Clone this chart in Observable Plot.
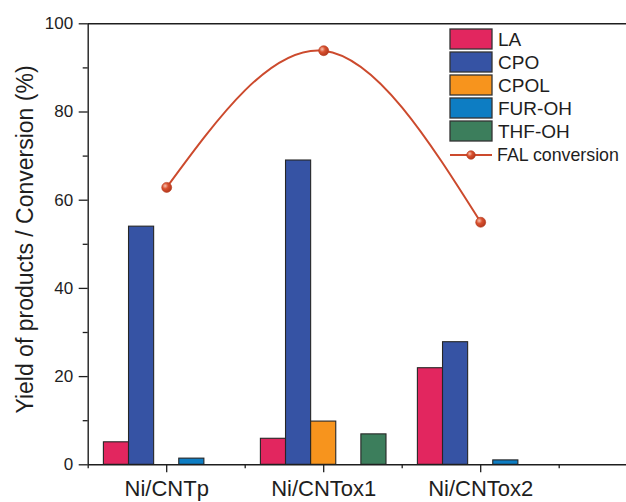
<!DOCTYPE html>
<html><head><meta charset="utf-8">
<script src="https://cdn.jsdelivr.net/npm/d3@7"></script>
<script src="https://cdn.jsdelivr.net/npm/@observablehq/plot@0.6"></script>
<style>
html,body{margin:0;padding:0;background:#fff;overflow:hidden;}
#chart svg{overflow:hidden;}
</style>
</head><body><div id="chart"></div>
<script>
const catalysts = ["Ni/CNTp", "Ni/CNTox1", "Ni/CNTox2"];
const products = ["LA", "CPO", "CPOL", "FUR-OH", "THF-OH"];
const colors = ["#e2265f", "#3653a4", "#f7941d", "#0d7dc3", "#3c7e5c"];
const LA = [5.1, 5.9, 21.9];
const CPO = [54.0, 69.0, 27.8];
const CPOL = [0, 9.8, 0];
const FUROH = [1.4, 0, 1.0];
const THFOH = [0, 6.9, 0];
const FAL = [62.9, 93.9, 55.0];
const lineName = "FAL conversion";
const yTicks = [0, 20, 40, 60, 80, 100];
const yMinor = [10, 30, 50, 70, 90];
const xMajor = [1, 2, 3, 4];
const xMinor = [0.5, 1.5, 2.5, 3.5];
const yTitle = "Yield of products / Conversion (%)";

const series = [LA, CPO, CPOL, FUROH, THFOH];
const groupWidth = 0.8, barW = groupWidth / products.length;
const bars = [];
catalysts.forEach((c, ci) => {
  series.forEach((vals, si) => {
    const v = vals[ci];
    if (v > 0) bars.push({cat: c, product: products[si], value: v,
      x1: ci + 1 - groupWidth / 2 + si * barW, x2: ci + 1 - groupWidth / 2 + (si + 1) * barW});
  });
});
const fal = catalysts.map((c, i) => ({x: i + 1, y: FAL[i]}));

const ink = "#1e1e1e";
const font = "'Liberation Sans', Arial, sans-serif";

function legend(index, scales, values, dims) {
  const g = d3.create("svg:g").attr("font-family", font).attr("font-size", 19)
    .attr("fill", ink).attr("text-anchor", "start");
  const defs = g.append("defs");
  const rg = defs.append("radialGradient").attr("id", "ball").attr("cx", "35%").attr("cy", "35%").attr("r", "65%");
  rg.append("stop").attr("offset", "0%").attr("stop-color", "#f6c2b0");
  rg.append("stop").attr("offset", "45%").attr("stop-color", "#d9512f");
  rg.append("stop").attr("offset", "100%").attr("stop-color", "#b63a1f");
  const x0 = 450, y0 = 29, step = 23, bw = 42, bh = 20;
  products.forEach((p, i) => {
    const y = y0 + i * step;
    g.append("rect").attr("x", x0).attr("y", y).attr("width", bw).attr("height", bh)
      .attr("fill", colors[i]).attr("stroke", "#333").attr("stroke-width", 1.3);
    g.append("text").attr("x", x0 + bw + 6).attr("y", y + bh / 2).attr("dy", "0.36em")
      .attr("text-anchor", "start").text(p);
  });
  const ly = y0 + products.length * step + 11;
  g.append("line").attr("x1", x0).attr("x2", x0 + bw).attr("y1", ly).attr("y2", ly)
    .attr("stroke", "#cc4a2d").attr("stroke-width", 2);
  g.append("circle").attr("cx", x0 + bw / 2).attr("cy", ly).attr("r", 4.3)
    .attr("fill", "url(#ball)").attr("stroke", "#b63a1f").attr("stroke-width", 0.6);
  g.append("text").attr("x", x0 + bw + 5).attr("y", ly).attr("dy", "0.36em")
    .attr("font-size", 17.8).attr("text-anchor", "start").text(lineName);
  return g.node();
}

const chart = Plot.plot({
  width: 626,
  height: 502,
  marginLeft: 87.7,
  marginTop: 23.3,
  marginBottom: 37.7,
  marginRight: 0,
  style: {fontFamily: font, color: ink, background: "#fff", overflow: "hidden"},
  x: {domain: [0.5, 4.5], range: [87.7, 87.7 + 4 * 157]},
  y: {domain: [0, 100], range: [464.3, 23.3]},
  color: {domain: products, range: colors},
  marks: [
    Plot.rectY(bars, {x1: "x1", x2: "x2", y: "value", fill: "product", stroke: "#262626", strokeWidth: 1.1}),
    Plot.line(fal, {x: "x", y: "y", curve: "natural", stroke: "#cc4a2d", strokeWidth: 2}),
    Plot.dot(fal, {x: "x", y: "y", r: 5, fill: "url(#ball)", stroke: "#b63a1f", strokeWidth: 0.6}),
    Plot.ruleY([0, 100], {stroke: ink, strokeWidth: 1.4}),
    Plot.ruleX([0.5], {stroke: ink, strokeWidth: 1.4}),
    Plot.axisY({ticks: yTicks, tickSize: 9, tickPadding: 6, fontSize: 17, label: null, stroke: ink, strokeWidth: 1.3}),
    Plot.axisY({ticks: yMinor, tickSize: 5, tickFormat: () => "", label: null, stroke: ink, strokeWidth: 1.3}),
    Plot.axisX({ticks: xMajor, tickSize: 8, tickPadding: 7.7, fontSize: 22, label: null,
      tickFormat: d => catalysts[d - 1] ?? "", stroke: ink, strokeWidth: 1.3}),
    Plot.axisX({ticks: xMinor, tickSize: 4, tickFormat: () => "", label: null, stroke: ink, strokeWidth: 1.3}),
    Plot.text([yTitle], {frameAnchor: "left", rotate: -90, dx: -54.7, dy: -4.8, fontSize: 23,
      lineAnchor: "bottom", textAnchor: "middle", fill: ink}),
    legend
  ]
});
document.getElementById("chart").appendChild(chart);
</script>
</body></html>
